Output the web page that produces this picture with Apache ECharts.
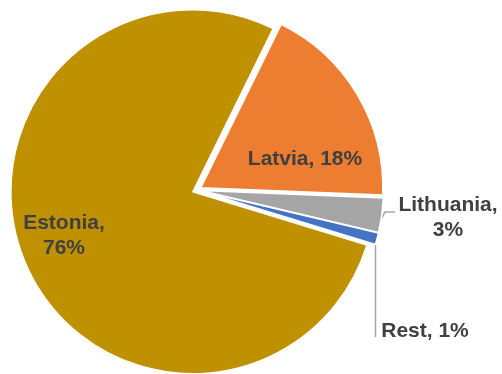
<!DOCTYPE html>
<html>
<head>
<meta charset="utf-8">
<script src="https://cdn.jsdelivr.net/npm/echarts@6/dist/echarts.min.js"></script>
<style>html,body{margin:0;padding:0;background:#fff}#c{width:502px;height:374px}</style>
</head>
<body>
<div id="c"></div>
<script>
var categories = ['Estonia', 'Latvia', 'Lithuania', 'Rest'];
var shares = [76, 18, 3, 1];
var colors = ['#BF9000', '#ED7D31', '#A5A5A5', '#4472C4'];

var labelSpots = [
  {x: 64, y: 236},
  {x: 305, y: 159},
  {x: 448, y: 218, line: [[381.5, 218], [385, 212], [395, 212]]},
  {x: 425, y: 331, line: [[375.5, 245], [375.5, 337], [375.5, 337]]}
];

var CX = 197, CY = 190, R = 182, START = -17, EXPLODE = 4.5;
var total = shares.reduce(function (a, b) { return a + b; }, 0);

// explosion direction of each slice: along its bisector
var acc = 0;
var offsets = shares.map(function (v) {
  var mid = START - (acc + v / 2) / total * 360;
  acc += v;
  var rad = mid * Math.PI / 180;
  return [EXPLODE * Math.cos(rad), -EXPLODE * Math.sin(rad)];
});

var series = categories.map(function (cat, k) {
  return {
    type: 'pie',
    center: [CX + offsets[k][0], CY + offsets[k][1]],
    radius: R,
    startAngle: START,
    clockwise: true,
    silent: true,
    avoidLabelOverlap: false,
    emphasis: {disabled: true},
    label: {
      show: true,
      position: 'outside',
      formatter: function (p) {
        if (p.dataIndex === 1 || p.dataIndex === 3) return p.name + ', ' + p.value + '%';
        return p.name + ',\n' + p.value + '%';
      },
      fontFamily: 'Liberation Sans, Arial, sans-serif',
      fontWeight: 'bold',
      fontSize: 21,
      lineHeight: 25,
      color: '#404040',
      align: 'center'
    },
    labelLine: {show: true, lineStyle: {color: '#A6A6A6', width: 1.5}},
    labelLayout: function (params) {
      var s = labelSpots[params.dataIndex];
      var r = {x: s.x, y: s.y, align: 'center', verticalAlign: 'middle'};
      if (s.line) r.labelLinePoints = s.line;
      return r;
    },
    data: categories.map(function (c, i) {
      var d = {name: c, value: shares[i]};
      if (i === k) {
        d.itemStyle = {color: colors[i], borderColor: '#ffffff', borderWidth: 1.5};
        if (i < 2) d.labelLine = {show: false};
      } else {
        d.itemStyle = {color: 'rgba(0,0,0,0)', borderWidth: 0};
        d.label = {show: false};
        d.labelLine = {show: false};
      }
      return d;
    })
  };
});

var chart = echarts.init(document.getElementById('c'), null, {renderer: 'canvas'});
chart.setOption({animation: false, series: series});
</script>
</body>
</html>
